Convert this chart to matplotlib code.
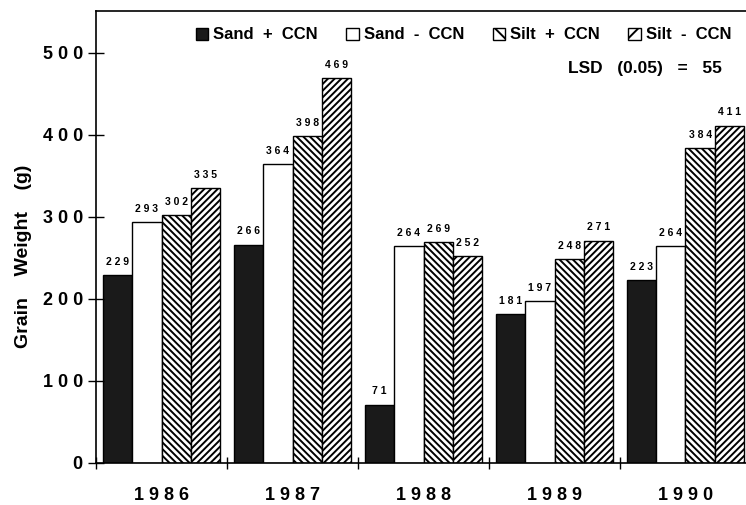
import numpy as np
import matplotlib.pyplot as plt
from matplotlib.patches import Patch

years = ['1986', '1987', '1988', '1989', '1990']
series = ['Sand  +  CCN', 'Sand  -  CCN', 'Silt  +  CCN', 'Silt  -  CCN']
sand_plus = [229, 266, 71, 181, 223]
sand_minus = [293, 364, 264, 197, 264]
silt_plus = [302, 398, 269, 248, 384]
silt_minus = [335, 469, 252, 271, 411]
y_ticks = [0, 100, 200, 300, 400, 500]
lsd_text = 'LSD   (0.05)   =   55'


def spaced(s):
    return ' '.join(str(s))


plt.rcParams['font.family'] = ['Liberation Sans', 'DejaVu Sans']
plt.rcParams['hatch.linewidth'] = 1.4

fig = plt.figure(figsize=(7.46, 5.05), dpi=100)
ax = fig.add_axes([0.1287, 0.0832, 0.8780, 0.8956])

values = [sand_plus, sand_minus, silt_plus, silt_minus]
colors = ['#1a1a1a', 'white', 'white', 'white']
hatches = [None, None, '\\\\\\\\\\', '/////']
width = 0.225
x = np.arange(len(years))

for k, vals in enumerate(values):
    pos = x - 0.3375 + k * width
    ax.bar(pos, vals, width, color=colors[k], edgecolor='black',
           linewidth=1.0, hatch=hatches[k])
    for p, v in zip(pos, vals):
        ax.text(p, v + 10, spaced(v), ha='center', va='bottom',
                fontsize=7.5, fontweight='bold')

ax.set_xlim(-0.5, len(years) - 0.5)
ax.set_ylim(0, 551)

ax.set_xticks(np.arange(len(years) + 1) - 0.5)
ax.set_xticklabels([])
ax.set_xticks(x, minor=True)
ax.set_xticklabels([spaced(y) for y in years], minor=True,
                   fontsize=13, fontweight='bold')
ax.tick_params(axis='x', which='major', direction='inout', length=9, width=1)
ax.tick_params(axis='x', which='minor', length=0, pad=17)

ax.set_yticks(y_ticks)
ax.set_yticklabels([spaced(t) for t in y_ticks], fontsize=13, fontweight='bold')
ax.tick_params(axis='y', direction='inout', length=11, width=1, pad=4)

ax.spines['right'].set_visible(False)
for s in ['left', 'bottom', 'top']:
    ax.spines[s].set_linewidth(1.2)

ax.set_ylabel('Grain    Weight    (g)', fontsize=14, fontweight='bold')
ax.yaxis.set_label_coords(-0.097, 0.457)

handles = [Patch(facecolor=colors[k], edgecolor='black', hatch=(hatches[k][:2] if hatches[k] else None))
           for k in range(4)]
ax.legend(handles, series, ncol=4, loc='upper right', bbox_to_anchor=(0.985, 0.985),
          frameon=False, handlelength=0.75, handleheight=0.75, handletextpad=0.3,
          columnspacing=1.7, prop={'size': 12, 'weight': 'bold'}, borderaxespad=0.2)

ax.text(0.956, 0.872, lsd_text, transform=ax.transAxes, ha='right', va='center',
        fontsize=12.5, fontweight='bold')

fig.savefig('out.png', dpi=100)
